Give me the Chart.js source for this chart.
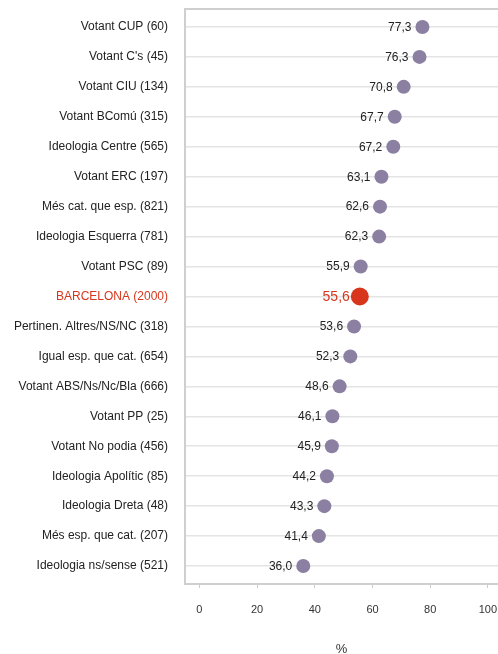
<!DOCTYPE html>
<html>
<head>
<meta charset="utf-8">
<script src="https://cdn.jsdelivr.net/npm/chart.js@4/dist/chart.umd.min.js"></script>
<style>
  html, body { margin: 0; padding: 0; background: #fff; }
  #wrap { width: 498px; height: 654px; position: relative; }
</style>
</head>
<body>
<div id="wrap"><canvas id="c" width="498" height="654"></canvas></div>
<script>
const categories = [
  "Votant CUP (60)",
  "Votant C's (45)",
  "Votant CIU (134)",
  "Votant BComú (315)",
  "Ideologia Centre (565)",
  "Votant ERC (197)",
  "Més cat. que esp. (821)",
  "Ideologia Esquerra (781)",
  "Votant PSC (89)",
  "BARCELONA (2000)",
  "Pertinen. Altres/NS/NC (318)",
  "Igual esp. que cat. (654)",
  "Votant ABS/Ns/Nc/Bla (666)",
  "Votant PP (25)",
  "Votant No podia (456)",
  "Ideologia Apolític (85)",
  "Ideologia Dreta (48)",
  "Més esp. que cat. (207)",
  "Ideologia ns/sense (521)"
];
const values = [77.3, 76.3, 70.8, 67.7, 67.2, 63.1, 62.6, 62.3, 55.9, 55.6, 53.6, 52.3, 48.6, 46.1, 45.9, 44.2, 43.3, 41.4, 36.0];
const highlight = "BARCELONA (2000)";
const xTickValues = [0, 20, 40, 60, 80, 100];
const xTitle = "%";

const RED = "#d8361c";
const PURPLE = "#8b80a2";
const FONT = "'Liberation Sans', Arial, Helvetica, sans-serif";
const hiIndex = categories.indexOf(highlight);

const fmt = v => v.toFixed(1).replace('.', ',');

const valueLabels = {
  id: 'valueLabels',
  afterDatasetsDraw(chart) {
    const ctx = chart.ctx;
    const meta = chart.getDatasetMeta(0);
    ctx.save();
    ctx.textAlign = 'right';
    ctx.textBaseline = 'middle';
    meta.data.forEach((el, i) => {
      const hi = i === hiIndex;
      ctx.font = (hi ? '14px ' : '12px ') + FONT;
      ctx.fillStyle = hi ? RED : '#222';
      const r = hi ? 9 : 7;
      ctx.fillText(fmt(values[i]), el.x - r - (hi ? 1 : 4), el.y + 0.5);
    });
    ctx.restore();
  }
};

new Chart(document.getElementById('c'), {
  type: 'scatter',
  data: {
    datasets: [{
      data: values.map((v, i) => ({ x: v, y: i })),
      pointRadius: categories.map((c, i) => i === hiIndex ? 9 : 7),
      pointBackgroundColor: categories.map((c, i) => i === hiIndex ? RED : PURPLE),
      pointBorderWidth: 0,
      pointHoverRadius: categories.map((c, i) => i === hiIndex ? 9 : 7)
    }]
  },
  options: {
    responsive: false,
    animation: false,
    events: [],
    layout: { autoPadding: false, padding: { top: 9, right: 0, bottom: -2, left: 0 } },
    plugins: { legend: { display: false }, tooltip: { enabled: false } },
    scales: {
      x: {
        type: 'linear',
        position: 'bottom',
        min: -5,
        max: 103.5,
        afterBuildTicks: s => { s.ticks = xTickValues.map(v => ({ value: v })); },
        afterFit: s => { s.paddingLeft = 0; s.paddingRight = 0; },
        grid: { display: true, drawOnChartArea: false, drawTicks: true, tickLength: 4, color: '#cccccc', lineWidth: 1 },
        border: { display: true, color: '#cfcfcf', width: 2 },
        ticks: { color: '#333', font: { family: FONT, size: 11 }, padding: 15, maxRotation: 0 },
        title: { display: true, text: xTitle, color: '#333', font: { family: FONT, size: 13, lineHeight: 1 }, padding: { top: 11.8, bottom: 0 } }
      },
      x2: {
        type: 'linear',
        position: 'top',
        min: -5,
        max: 103.5,
        afterFit: s => { s.paddingLeft = 0; s.paddingRight = 0; s.height = 0; },
        grid: { display: false, drawTicks: false },
        border: { display: true, color: '#cfcfcf', width: 2 },
        ticks: { display: false }
      },
      y: {
        type: 'linear',
        reverse: true,
        min: -0.6,
        max: 18.6,
        afterBuildTicks: s => { s.ticks = categories.map((c, i) => ({ value: i })); },
        afterFit: s => { s.width = 185; s.paddingTop = 0; s.paddingBottom = 0; },
        grid: { display: true, drawTicks: false, color: '#e4e4e4', lineWidth: 1.5 },
        border: { display: true, color: '#cfcfcf', width: 2 },
        ticks: {
          padding: 17,
          font: { family: FONT, size: 12 },
          color: ctx => ctx.index === hiIndex ? RED : '#222',
          callback: v => categories[v]
        }
      }
    }
  },
  plugins: [valueLabels]
});
</script>
</body>
</html>
